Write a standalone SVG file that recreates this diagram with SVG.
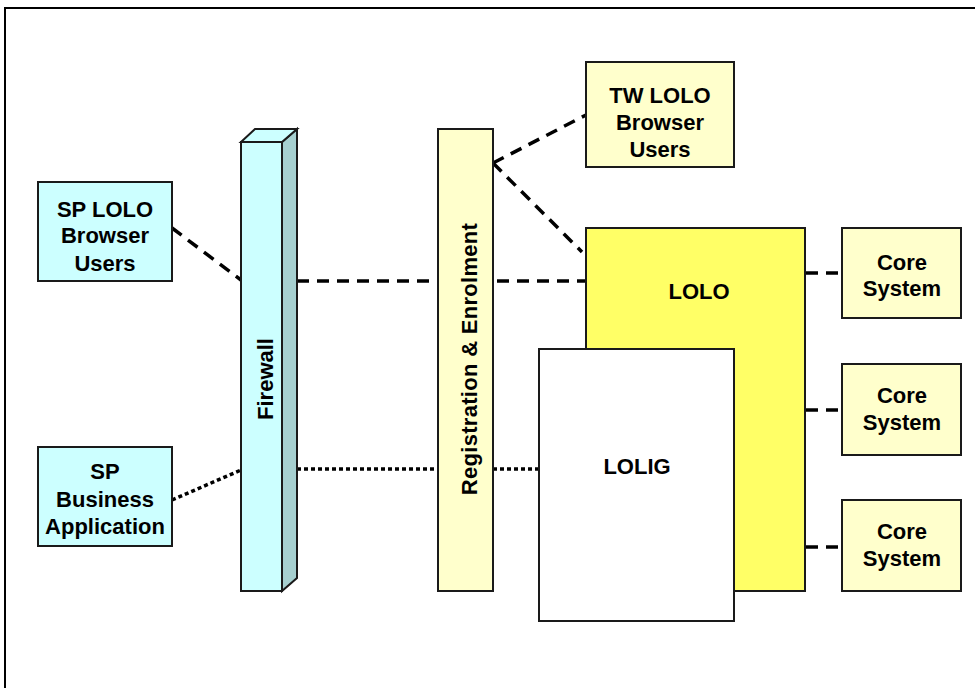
<svg xmlns="http://www.w3.org/2000/svg" width="975" height="688" viewBox="0 0 975 688">
<style>
text{font-family:"Liberation Sans",Arial,sans-serif;font-weight:bold;font-size:22px;fill:#000;text-anchor:middle}
.box{stroke:#1a1a1a;stroke-width:2}
.cyan{fill:#CCFFFF}
.pale{fill:#FFFFCC}
.dash{stroke:#000;stroke-width:3.5;fill:none;stroke-dasharray:12 8}
.dot{stroke:#000;stroke-width:3.5;fill:none;stroke-dasharray:4 3}
</style>
<rect width="975" height="688" fill="#fff"/>
<rect x="5" y="8" width="1000" height="720" fill="none" stroke="#000" stroke-width="2"/>
<g id="connectors">
<line class="dash" x1="172" y1="228" x2="241" y2="280"/>
<line class="dot" x1="172" y1="500" x2="241" y2="470"/>
<line class="dash" x1="297" y1="281" x2="586" y2="281"/>
<line class="dot" x1="297" y1="469" x2="539" y2="469"/>
<line class="dash" x1="493" y1="163" x2="586" y2="115"/>
<line class="dash" x1="493" y1="163" x2="582" y2="252"/>
<line class="dash" x1="806" y1="273" x2="842" y2="273"/>
<line class="dash" x1="806" y1="410" x2="842" y2="410"/>
<line class="dash" x1="806" y1="547" x2="842" y2="547"/>
</g>
<g id="sp-lolo-users">
<rect class="box cyan" x="38" y="182" width="134" height="99"/>
<text x="105" y="217">SP LOLO</text>
<text x="105" y="243">Browser</text>
<text x="105" y="271">Users</text>
</g>
<g id="sp-business-app">
<rect class="box cyan" x="38" y="447" width="134" height="99"/>
<text x="105" y="479">SP</text>
<text x="105" y="507">Business</text>
<text x="105" y="534">Application</text>
</g>
<g id="firewall">
<polygon class="box" fill="#A6D0D0" points="282,142 297,129 297,578 282,591"/>
<polygon class="box cyan" points="241,142 255,129 297,129 282,142"/>
<rect class="box cyan" x="241" y="142" width="41" height="449"/>
<text transform="translate(273,379) rotate(-90)">Firewall</text>
</g>
<g id="registration">
<rect class="box pale" x="438" y="129" width="55" height="462"/>
<text transform="translate(477,359) rotate(-90)" letter-spacing="0.3">Registration &amp; Enrolment</text>
</g>
<g id="tw-lolo-users">
<rect class="box pale" x="586" y="62" width="148" height="105"/>
<text x="660" y="103">TW LOLO</text>
<text x="660" y="130">Browser</text>
<text x="660" y="157">Users</text>
</g>
<g id="lolo">
<rect class="box" fill="#FFFF66" x="586" y="228" width="219" height="363"/>
<text x="699" y="299">LOLO</text>
</g>
<g id="lolig">
<rect class="box" fill="#fff" x="539" y="349" width="195" height="272"/>
<text x="637" y="474">LOLIG</text>
</g>
<g id="core-1">
<rect class="box pale" x="842" y="228" width="119" height="90"/>
<text x="902" y="270">Core</text>
<text x="902" y="296">System</text>
</g>
<g id="core-2">
<rect class="box pale" x="842" y="364" width="119" height="91"/>
<text x="902" y="403">Core</text>
<text x="902" y="430">System</text>
</g>
<g id="core-3">
<rect class="box pale" x="842" y="500" width="119" height="91"/>
<text x="902" y="539">Core</text>
<text x="902" y="566">System</text>
</g>
</svg>
